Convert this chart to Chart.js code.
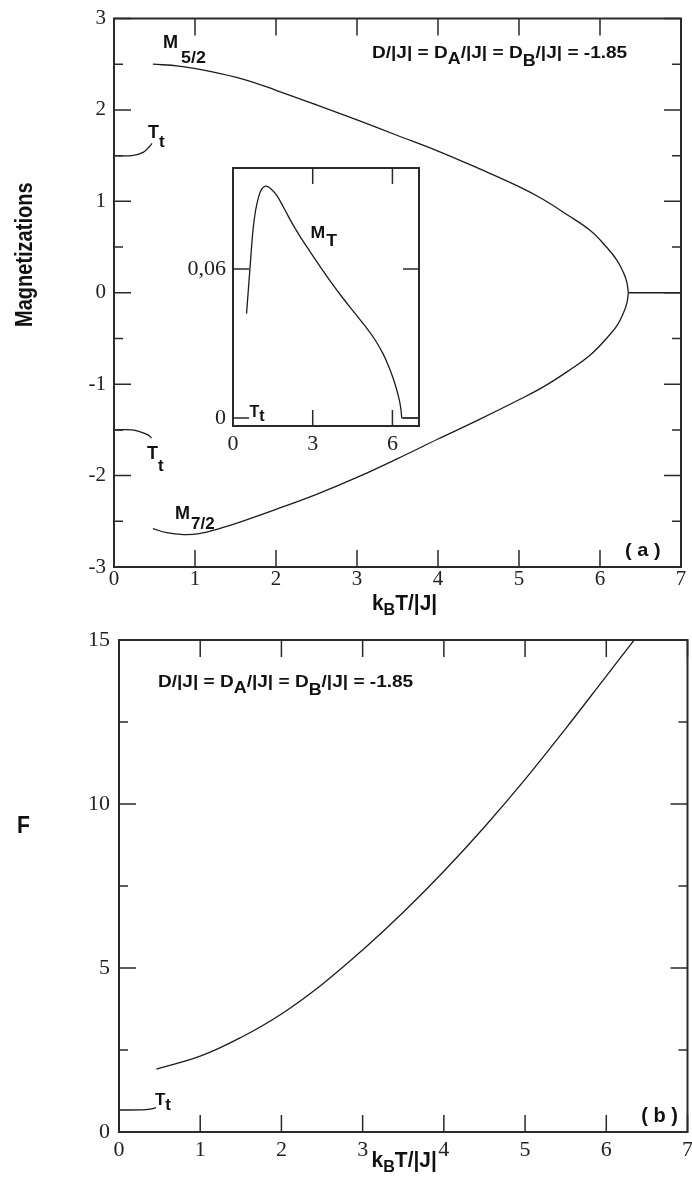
<!DOCTYPE html>
<html>
<head>
<meta charset="utf-8">
<script src="https://cdn.jsdelivr.net/npm/chart.js@4.4.0/dist/chart.umd.min.js"></script>
<style>
  html, body { margin: 0; padding: 0; background: #fff; }
  body { width: 692px; height: 1182px; position: relative; overflow: hidden; }
  canvas { position: absolute; }
  #graficoA { left: 0; top: 0; }
  #graficoB { left: 0; top: 600px; }
  #graficoInset { left: 170px; top: 150px; }
</style>
</head>
<body>
<canvas id="graficoA" width="692" height="620"></canvas>
<canvas id="graficoB" width="700" height="582"></canvas>
<canvas id="graficoInset" width="260" height="310"></canvas>
<script>
// ================= Dados =================
const temperaturaTicks = [0, 1, 2, 3, 4, 5, 6, 7];

// painel (a): magnetizações
const magTicks = [-3, -2, -1, 0, 1, 2, 3];
const magMinor = [-2.5, -1.5, -0.5, 0.5, 1.5, 2.5];

const tempM52 = [0.48, 0.8, 1.2, 1.6, 2.0, 2.5, 3.0, 3.5, 4.0, 4.5, 5.0, 5.3, 5.6, 5.88, 6.08, 6.21, 6.29, 6.33, 6.35];
const valM52  = [2.50, 2.48, 2.42, 2.335, 2.215, 2.055, 1.89, 1.72, 1.55, 1.36, 1.16, 1.02, 0.85, 0.68, 0.50, 0.355, 0.22, 0.12, 0];

const tempM72 = [0.48, 0.65, 0.86, 1.05, 1.3, 1.6, 2.0, 2.5, 3.0, 3.5, 4.0, 4.5, 5.0, 5.3, 5.6, 5.88, 6.08, 6.21, 6.29, 6.33, 6.35];
const valM72  = [-2.58, -2.625, -2.645, -2.635, -2.58, -2.495, -2.37, -2.205, -2.02, -1.815, -1.60, -1.39, -1.17, -1.03, -0.86, -0.68, -0.50, -0.36, -0.22, -0.12, 0];

const tempPara = [6.35, 7];
const valPara  = [0, 0];

const tempTtSup = [0, 0.22, 0.36, 0.44, 0.47];
const valTtSup  = [1.5, 1.5, 1.535, 1.6, 1.635];
const tempTtInf = [0, 0.22, 0.32, 0.42, 0.465];
const valTtInf  = [-1.5, -1.5, -1.52, -1.555, -1.59];

// inset: M_T
const insetXTicks = [0, 3, 6];
const insetYTicks = [0, 0.06];
const insetYLabels = ['0', '0,06'];
const tempMT = [0.51, 0.58, 0.64, 0.7, 0.76, 0.85, 0.95, 1.08, 1.23, 1.4, 1.64, 1.9, 2.26, 2.6, 2.89, 3.3, 3.7, 4.14, 4.6, 5.01, 5.35, 5.64, 5.85, 6.01, 6.15, 6.26, 6.32, 6.35];
const valMT  = [0.042, 0.052, 0.0604, 0.069, 0.0764, 0.0835, 0.0884, 0.0921, 0.0933, 0.0925, 0.0897, 0.0848, 0.0777, 0.0718, 0.0671, 0.0606, 0.0545, 0.0482, 0.042, 0.0365, 0.0314, 0.026, 0.021, 0.0165, 0.0118, 0.0072, 0.0035, 0];
const tempMTPara = [6.35, 7];
const valMTPara  = [0, 0];

// painel (b): F
const fTicks = [0, 5, 10, 15];
const fMinor = [2.5, 7.5, 12.5];
const tempF = [0.46, 1.0, 1.5, 2.0, 2.5, 3.0, 3.5, 4.0, 4.5, 5.0, 5.5, 6.0, 6.36];
const valF  = [1.92, 2.31, 2.88, 3.6, 4.5, 5.55, 6.7, 7.95, 9.3, 10.75, 12.3, 13.9, 15.05];
const tempTtF = [0, 0.28, 0.38, 0.455];
const valTtF  = [0.67, 0.675, 0.695, 0.74];

// ================= Estilos =================
const SERIF = '"Liberation Serif", "Times New Roman", serif';
const SANS = '"Liberation Sans", Arial, sans-serif';
const COR_LINHA = '#1c1c1c';
const COR_EIXO = '#2a2a2a';

// desenha texto em partes (para subscritos), com escala horizontal/vertical
function larguraPartes(ctx, t) {
  let w = 0;
  t.partes.forEach(p => {
    ctx.font = `bold ${p.size || t.size}px ${SANS}`;
    w += ctx.measureText(p.t).width * (p.sx || t.sx || 1) + (p.gap || 0);
  });
  return w;
}

function escreverPartes(ctx, t, x0, y0) {
  let cx = x0;
  t.partes.forEach(p => {
    const sx = p.sx || t.sx || 1;
    const sy = t.sy || 1;
    ctx.font = `bold ${p.size || t.size}px ${SANS}`;
    ctx.save();
    ctx.translate(cx, y0 + (p.dy || 0));
    ctx.scale(sx, sy);
    ctx.fillText(p.t, 0, 0);
    ctx.restore();
    cx += ctx.measureText(p.t).width * sx + (p.gap || 0);
  });
}

// plugin: moldura, marcas internas e rótulos
function moldura(cfg) {
  return {
    id: 'moldura',
    afterDraw(chart) {
      const { ctx, chartArea: a, scales } = chart;
      const sx = scales.x, sy = scales.y;
      ctx.save();
      ctx.strokeStyle = COR_EIXO;
      ctx.lineWidth = 1.5;
      ctx.beginPath();
      cfg.xTicks.forEach(v => {
        const p = sx.getPixelForValue(v);
        ctx.moveTo(p, a.bottom); ctx.lineTo(p, a.bottom - cfg.tick);
        ctx.moveTo(p, a.top); ctx.lineTo(p, a.top + cfg.tick);
      });
      const marcaY = (v, len) => {
        const p = sy.getPixelForValue(v);
        ctx.moveTo(a.left, p); ctx.lineTo(a.left + len, p);
        ctx.moveTo(a.right, p); ctx.lineTo(a.right - len, p);
      };
      cfg.yTicks.forEach(v => marcaY(v, cfg.tick));
      (cfg.yMinor || []).forEach(v => marcaY(v, cfg.minor));
      ctx.stroke();

      ctx.lineWidth = 2;
      ctx.strokeRect(a.left, a.top, a.width, a.height);

      ctx.fillStyle = '#111';
      ctx.textBaseline = 'alphabetic';
      ctx.textAlign = 'left';
      (cfg.textos || []).forEach(t => {
        const px = t.px !== undefined ? t.px : sx.getPixelForValue(t.x);
        const py = t.abaixo !== undefined ? a.bottom + t.abaixo : sy.getPixelForValue(t.y);
        if (t.rot) {
          const w = larguraPartes(ctx, t);
          ctx.save();
          ctx.translate(px, py);
          ctx.rotate(-Math.PI / 2);
          escreverPartes(ctx, t, -w / 2, t.size * 0.36 * (t.sy || 1));
          ctx.restore();
        } else {
          escreverPartes(ctx, t, px, py);
        }
      });
      ctx.restore();
    }
  };
}

function serie(xs, ys) {
  return {
    data: xs.map((v, i) => ({ x: v, y: ys[i] })),
    showLine: true,
    borderColor: COR_LINHA,
    borderWidth: 1.3,
    pointRadius: 0,
    tension: 0.4,
    fill: false
  };
}

function criarGrafico(id, cfg) {
  return new Chart(document.getElementById(id), {
    type: 'scatter',
    data: { datasets: cfg.series },
    options: {
      responsive: false,
      animation: false,
      devicePixelRatio: 1,
      layout: { padding: cfg.padding },
      plugins: { legend: { display: false }, tooltip: { enabled: false } },
      scales: {
        x: {
          type: 'linear', min: cfg.xMin, max: cfg.xMax,
          grid: { display: false, drawTicks: false },
          border: { display: false },
          afterBuildTicks: s => { s.ticks = cfg.xLabelTicks.map(v => ({ value: v })); },
          afterFit: s => { s.height = cfg.xAltura; },
          ticks: {
            autoSkip: false, maxRotation: 0, padding: cfg.xPad, color: '#222',
            font: { family: SERIF, size: cfg.fonte, lineHeight: 1 },
            callback: v => String(v)
          }
        },
        y: {
          type: 'linear', min: cfg.yMin, max: cfg.yMax,
          grid: { display: false, drawTicks: false },
          border: { display: false },
          afterBuildTicks: s => { s.ticks = cfg.yLabelTicks.map(v => ({ value: v })); },
          afterFit: s => { s.width = cfg.yLargura; },
          ticks: {
            autoSkip: false, padding: cfg.yPad, color: '#222',
            font: { family: SERIF, size: cfg.fonte, lineHeight: 1 },
            callback: (v, i) => cfg.yLabels ? cfg.yLabels[i] : String(v)
          }
        }
      }
    },
    plugins: [moldura(cfg)]
  });
}

const textoD = [
  { t: 'D/|J| = D' }, { t: 'A', dy: 6, size: 16 },
  { t: '/|J| = D' }, { t: 'B', dy: 8, size: 16 },
  { t: '/|J| = -1.85' }
];

// ================= Painel (a) =================
criarGrafico('graficoA', {
  series: [
    serie(tempM52, valM52), serie(tempM72, valM72), serie(tempPara, valPara),
    serie(tempTtSup, valTtSup), serie(tempTtInf, valTtInf)
  ],
  padding: { left: 0, right: 11, top: 12, bottom: 23 },
  xMin: 0, xMax: 7, yMin: -3, yMax: 3,
  xLabelTicks: temperaturaTicks, yLabelTicks: magTicks,
  xTicks: temperaturaTicks, yTicks: magTicks, yMinor: magMinor,
  tick: 17, minor: 9,
  xAltura: 30, yLargura: 114, xPad: 2, yPad: 8, fonte: 21,
  textos: [
    { x: 3.185, y: 2.568, size: 17, sx: 1.12, partes: textoD },
    { x: 0.605, y: 2.676, size: 19, sx: 0.95, partes: [{ t: 'M', gap: 3 }, { t: '5/2', dy: 15, size: 17, sx: 1.05 }] },
    { x: 0.753, y: -2.47, size: 18, partes: [{ t: 'M', gap: 1 }, { t: '7/2', dy: 10, size: 17 }] },
    { x: 0.42, y: 1.69, size: 18, partes: [{ t: 'T' }, { t: 't', dy: 9, size: 17 }] },
    { x: 0.407, y: -1.82, size: 18, partes: [{ t: 'T' }, { t: 't', dy: 12, size: 17 }] },
    { x: 6.31, y: -2.88, size: 19, sx: 1.05, partes: [{ t: '( a )' }] },
    { x: 3.185, abaixo: 43, size: 22, sx: 0.95, partes: [{ t: 'k' }, { t: 'B', dy: 5, size: 17 }, { t: 'T/|J|' }] },
    { px: 24, y: 0.416, rot: true, size: 20, sy: 1.15, partes: [{ t: 'Magnetizations' }] }
  ]
});

// ================= Inset: M_T =================
criarGrafico('graficoInset', {
  series: [serie(tempMT, valMT), serie(tempMTPara, valMTPara)],
  padding: { left: 0, right: 11, top: 16, bottom: 4 },
  xMin: 0, xMax: 7, yMin: -0.0032, yMax: 0.1006,
  xLabelTicks: insetXTicks, yLabelTicks: insetYTicks, yLabels: insetYLabels,
  xTicks: insetXTicks, yTicks: insetYTicks,
  tick: 16, minor: 0,
  xAltura: 30, yLargura: 63, xPad: 7, yPad: 7, fonte: 22,
  textos: [
    { x: 2.92, y: 0.0723, size: 16, sx: 1.1, partes: [{ t: 'M', gap: 1 }, { t: 'T', dy: 8 }] },
    { x: 0.62, y: 0.0006, size: 16, partes: [{ t: 'T' }, { t: 't', dy: 4 }] }
  ]
});

// ================= Painel (b) =================
criarGrafico('graficoB', {
  series: [serie(tempF, valF), serie(tempTtF, valTtF)],
  padding: { left: 0, right: 11.5, top: 40, bottom: 15 },
  xMin: 0, xMax: 7, yMin: 0, yMax: 15,
  xLabelTicks: temperaturaTicks, yLabelTicks: fTicks,
  xTicks: temperaturaTicks, yTicks: fTicks, yMinor: fMinor,
  tick: 17, minor: 9,
  xAltura: 35, yLargura: 119, xPad: 7, yPad: 9, fonte: 22,
  textos: [
    { x: 0.48, y: 13.57, size: 17, sx: 1.12, partes: textoD },
    { x: 0.443, y: 0.82, size: 17, partes: [{ t: 'T' }, { t: 't', dy: 5 }] },
    { x: 6.43, y: 0.32, size: 20, partes: [{ t: '( b )' }] },
    { x: 3.11, abaixo: 35, size: 22, sx: 0.95, partes: [{ t: 'k' }, { t: 'B', dy: 5, size: 17 }, { t: 'T/|J|' }] },
    { px: 17, y: 9.12, size: 23, sx: 0.92, partes: [{ t: 'F' }] }
  ]
});
</script>
</body>
</html>
